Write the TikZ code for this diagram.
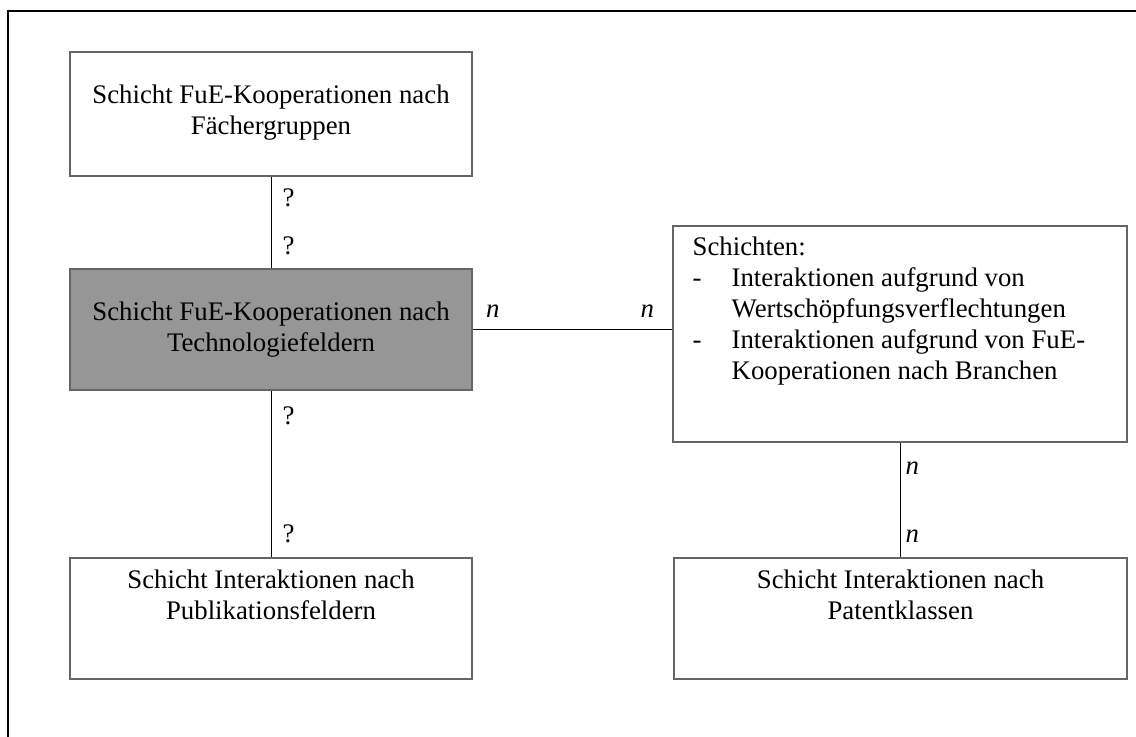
\documentclass[tikz,border=0pt]{standalone}
\usepackage{fontspec}
\setmainfont{Liberation Serif}
\usetikzlibrary{positioning}
\newcommand{\layerfont}{\fontsize{13.4pt}{15.5pt}\selectfont}
\tikzset{
  layer/.style={draw=black!60, line width=0.75pt, minimum width=201pt, minimum height=60.5pt},
  layertext/.style={align=center, inner sep=0pt},
  link/.style={line width=0.5pt},
  qmark/.style={inner sep=0pt, anchor=west, xshift=5.5pt},
  mult/.style={inner sep=0pt, font=\layerfont\itshape}
}

\begin{document}
\begin{tikzpicture}[x=0.5pt, y=-0.5pt, font=\layerfont]
\useasboundingbox (0,0) rectangle (1136,737);
\draw[line width=1.1pt] (8,737) -- (8,11) -- (1136,11);

% Schichten
\node[layer, minimum height=62pt] (fg) at (271,114) {};
\node[layer, fill=black!41] (tf) at (271,329.5) {};
\node[layer] (pf) at (271,618.5) {};
\node[layer, minimum width=227pt, minimum height=108pt] (br) at (900,334) {};
\node[layer, minimum width=226.5pt] (pk) at (900.5,618.5) {};

\node[layertext] (fgtext) at ([yshift=0.75pt]fg.center) {Schicht FuE-Kooperationen nach\\Fächergruppen};
\node[layertext] (tftext) at (tf.center) {Schicht FuE-Kooperationen nach\\Technologiefeldern};
\node[layertext] (pftext) at ([yshift=12pt]pf.center) {Schicht Interaktionen nach\\Publikationsfeldern};
\node[layertext] (pktext) at ([yshift=12pt]pk.center) {Schicht Interaktionen nach\\Patentklassen};
\node[align=left, inner sep=0pt, anchor=north west] (brtext) at ([xshift=10pt,yshift=-5.5pt]br.north west)
  {Schichten:\\
   \makebox[19.5pt][l]{-}Interaktionen aufgrund von\\
   \hspace*{19.5pt}Wertschöpfungsverflechtungen\\
   \makebox[19.5pt][l]{-}Interaktionen aufgrund von FuE-\\
   \hspace*{19.5pt}Kooperationen nach Branchen};

% Beziehungen
\draw[link] (fg.south) -- node[qmark, pos=0.23] (q1) {?} node[qmark, pos=0.76] (q2) {?} (tf.north);
\draw[link] (tf.south) -- node[qmark, pos=0.15] (q3) {?} node[qmark, pos=0.86] (q4) {?} (pf.north);
\draw[link] (tf.east) -- node[mult, pos=0.1, anchor=south, yshift=5.75pt] (n1) {n}
  node[mult, pos=0.875, anchor=south, yshift=5.75pt] (n2) {n} (br.west |- tf.east);
\draw[link] (br.south) -- node[mult, pos=0.22, anchor=west, xshift=2.5pt] (n3) {n}
  node[mult, pos=0.82, anchor=west, xshift=2.5pt] (n4) {n} (br.south |- pk.north);
\end{tikzpicture}
\end{document}
